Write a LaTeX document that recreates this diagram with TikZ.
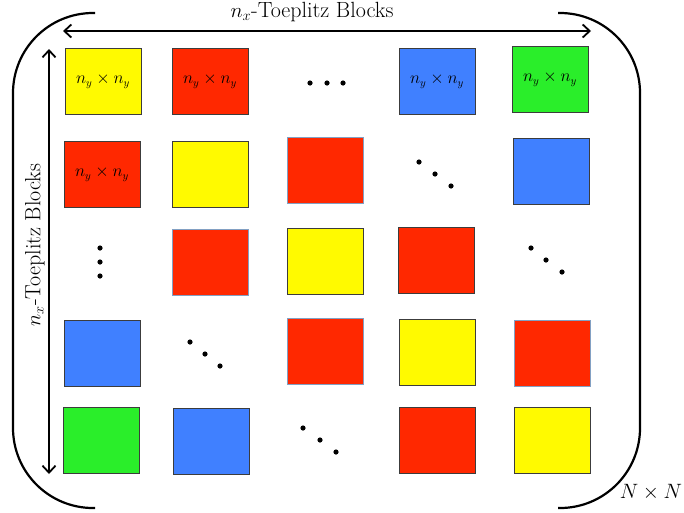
\documentclass[tikz,border=0pt]{standalone}
\usetikzlibrary{arrows.meta}
\definecolor{blkyellow}{RGB}{255,250,0}
\definecolor{blkred}{RGB}{255,40,0}
\definecolor{blkblue}{RGB}{64,128,255}
\definecolor{blkgreen}{RGB}{42,238,42}
\definecolor{edgedark}{RGB}{60,60,60}
\definecolor{edgesoft}{RGB}{130,160,195}
\begin{document}
\begin{tikzpicture}[x=1pt,y=-1pt,
  blk/.style={draw=edgedark, line width=0.9pt, minimum width=76pt, minimum height=66pt,
    inner sep=0pt, outer sep=0pt, anchor=north west, font=\fontsize{16}{18}\selectfont},
  softedge/.style={draw=edgesoft},
  ylw/.style={blk, fill=blkyellow},
  rd/.style={blk, fill=blkred},
  bl/.style={blk, fill=blkblue},
  gr/.style={blk, fill=blkgreen},
  brace/.style={line width=2.2pt, rounded corners=80pt},
  dblarrow/.style={line width=1.8pt, {Straight Barb[length=7pt,width=13pt]}-{Straight Barb[length=7pt,width=13pt]}},
  lbl/.style={font=\fontsize{22}{26}\selectfont, inner sep=0pt},
  dot/.style={radius=2.6pt}]
\useasboundingbox (0,0) rectangle (684,512);

% outer matrix brackets
\draw[brace] (95,13) -- (13,13) -- (13,508) -- (95,508);
\draw[brace] (558,13) -- (640,13) -- (640,508) -- (558,508);

% block-count arrows and labels
\coordinate (hl) at (63,31);
\coordinate (hr) at (591,31);
\coordinate (vt) at (49,49);
\coordinate (vb) at (49,474);
\draw[dblarrow] (hl) -- (hr);
\draw[dblarrow] (vt) -- (vb);
\node[lbl] (toplbl) at (312,12) {$n_x$-Toeplitz Blocks};
\node[lbl, rotate=90] (sidelbl) at (35,245) {$n_x$-Toeplitz Blocks};
\node[lbl] (size) at (651,492) {$N\times N$};

% row 1
\node[ylw] (b11) at (65,48) {$n_y\times n_y$};
\node[rd]  (b12) at (172,48) {\raisebox{-8pt}{$n_y\times n_y$}};
\node[bl]  (b14) at (399,48) {$n_y\times n_y$};
\node[gr]  (b15) at (512,46) {$n_y\times n_y$};
\fill (310,83) circle[dot] (327,83) circle[dot] (343,83) circle[dot];

% row 2
\node[rd]  (b21) at (64,141) {$n_y\times n_y$};
\node[ylw] (b22) at (172,141) {};
\node[rd, softedge] (b23) at (287,137) {};
\node[bl]  (b25) at (513,138) {};
\fill (419,162) circle[dot] (435,174) circle[dot] (451,186) circle[dot];

% row 3
\fill (100,248) circle[dot] (100,262) circle[dot] (100,276) circle[dot];
\node[rd, softedge] (b32) at (172,229) {};
\node[ylw] (b33) at (287,228) {};
\node[rd]  (b34) at (398,227) {};
\fill (531,248) circle[dot] (546,260) circle[dot] (562,272) circle[dot];

% row 4
\node[bl]  (b41) at (64,320) {};
\fill (190,342) circle[dot] (205,354) circle[dot] (220,366) circle[dot];
\node[rd, softedge] (b43) at (287,318) {};
\node[ylw] (b44) at (399,319) {};
\node[rd, softedge] (b45) at (514,320) {};

% row 5
\node[gr]  (b51) at (63,407) {};
\node[bl]  (b52) at (173,408) {};
\fill (303,428) circle[dot] (320,440) circle[dot] (336,452) circle[dot];
\node[rd]  (b54) at (399,407) {};
\node[ylw] (b55) at (514,407) {};
\end{tikzpicture}
\end{document}
